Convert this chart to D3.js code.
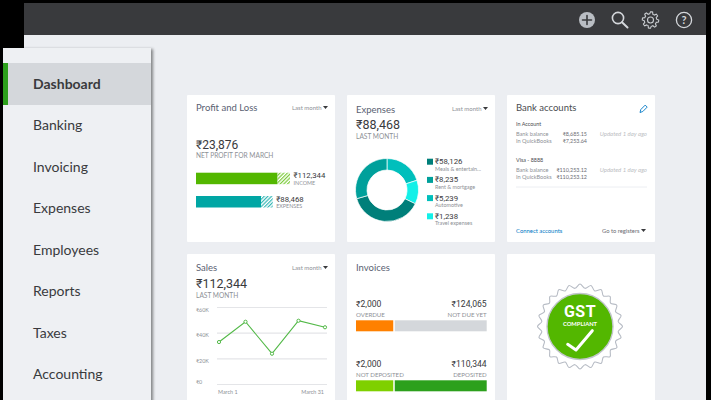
<!DOCTYPE html>
<html>
<head>
<meta charset="utf-8">
<script src="https://cdn.jsdelivr.net/npm/d3@7/dist/d3.min.js"></script>
<style>
  html, body { margin: 0; padding: 0; background: #000; overflow: hidden; }
  svg { display: block; }
  text { font-family: Lato, "Noto Sans", sans-serif; }
  .num { font-family: Roboto, "Noto Sans", sans-serif; }
  .seal { font-family: "Liberation Sans Narrow", Roboto, sans-serif; }
</style>
</head>
<body>
<div id="chart"></div>
<script>
// sidebar
const navItems = ['Dashboard', 'Banking', 'Invoicing', 'Expenses', 'Employees', 'Reports', 'Taxes', 'Accounting'];

// profit and loss: solid part, hatched part (lengths)
const plNames = ['INCOME', 'EXPENSES'];
const plLabels = ['₹112,344', '₹88,468'];
const plSolid = [97500, 77700];
const plHatched = [14844, 14000];

// expenses donut, arc shares in degrees
const donutNames = ['Automotive', 'Travel expenses', 'Meals & entertain...', 'Rent & mortgage'];
const donutShares = [72, 44, 138, 106];
const legendAmounts = ['₹58,126', '₹8,235', '₹5,239', '₹1,238'];
const legendNames = ['Meals & entertain...', 'Rent & mortgage', 'Automotive', 'Travel expenses'];

// bank accounts
const bankAccounts = ['In Account', 'Visa - 8888'];
const bankBalances = ['₹8,685.15', '₹110,253.12'];
const bookBalances = ['₹7,253.64', '₹110,253.12'];

// sales line
const salesLabels = ['March 1', 'March 8', 'March 16', 'March 23', 'March 31'];
const salesValues = [32700, 48500, 23600, 49300, 44200];
const salesTicks = [0, 20000, 40000, 60000];
const salesTickLabels = ['₹0', '₹20K', '₹40K', '₹60K'];

// invoices: label pairs and bar split in percent
const invoiceLeft = [['₹2,000', 'OVERDUE'], ['₹2,000', 'NOT DEPOSITED']];
const invoiceRight = [['₹124,065', 'NOT DUE YET'], ['₹110,344', 'DEPOSITED']];
const invoiceSplit = [28.5, 28.5];

const width = 711, height = 400;
const svg = d3.select('#chart').append('svg').attr('width', width).attr('height', height);
const defs = svg.append('defs');

const shadow = defs.append('filter').attr('id', 'navShadow').attr('x', '-10%').attr('y', '-5%').attr('width', '120%').attr('height', '110%');
shadow.append('feDropShadow').attr('dx', 2).attr('dy', 1).attr('stdDeviation', 1.6).attr('flood-color', '#000').attr('flood-opacity', 0.45);

function hatch(id, color) {
  const p = defs.append('pattern').attr('id', id).attr('width', 2.6).attr('height', 2.6)
    .attr('patternUnits', 'userSpaceOnUse').attr('patternTransform', 'rotate(45)');
  p.append('rect').attr('width', 2.6).attr('height', 2.6).attr('fill', '#fff');
  p.append('rect').attr('width', 1.2).attr('height', 2.6).attr('fill', color);
}
hatch('hatchGreen', '#7ccb3a');
hatch('hatchTeal', '#35b8b6');

function label(g, x, y, str, size, color, opts = {}) {
  return g.append('text').attr('x', x).attr('y', y).text(str)
    .attr('font-size', size).attr('fill', color)
    .attr('text-anchor', opts.anchor || 'start')
    .attr('font-weight', opts.weight || 400)
    .attr('font-style', opts.style || 'normal')
    .attr('class', opts.cls || null);
}

// page frame
svg.append('rect').attr('x', 24).attr('y', 3).attr('width', 682).attr('height', 32).attr('fill', '#393a3d');
svg.append('rect').attr('x', 24).attr('y', 35).attr('width', 682).attr('height', 365).attr('fill', '#eceef2');

// top bar icons
const icons = svg.append('g').attr('fill', 'none').attr('stroke-linecap', 'round');
icons.append('circle').attr('cx', 587).attr('cy', 20).attr('r', 8).attr('fill', '#b9bdc3');
icons.append('path').attr('d', 'M582.5 20H591.5M587 15.5V24.5').attr('stroke', '#393a3d').attr('stroke-width', 1.6);
icons.append('circle').attr('cx', 618).attr('cy', 18).attr('r', 5.6).attr('stroke', '#d4d7db').attr('stroke-width', 1.6);
icons.append('path').attr('d', 'M622 22.3L627.5 27.5').attr('stroke', '#d4d7db').attr('stroke-width', 2);
const gearR = d3.range(0, 48).map(i => [i / 48 * 2 * Math.PI, (i % 6 < 3) ? 8.2 : 6.2]);
icons.append('path').attr('transform', 'translate(650.5,20)').attr('stroke', '#c9ccd0').attr('stroke-width', 1.1)
  .attr('d', d3.lineRadial().curve(d3.curveLinearClosed)(gearR));
icons.append('circle').attr('cx', 650.5).attr('cy', 20).attr('r', 3).attr('stroke', '#c9ccd0').attr('stroke-width', 1.1);
icons.append('circle').attr('cx', 684).attr('cy', 20).attr('r', 7.6).attr('stroke', '#d4d7db').attr('stroke-width', 1.3);
label(svg, 684, 24, '?', 11, '#d4d7db', { anchor: 'middle', weight: 700 });

// sidebar
const nav = svg.append('g');
nav.append('rect').attr('x', 3).attr('y', 48).attr('width', 148).attr('height', 360).attr('fill', '#eef0f3').attr('filter', 'url(#navShadow)');
nav.append('rect').attr('x', 3).attr('y', 63).attr('width', 148).attr('height', 42).attr('fill', '#d4d7db');
nav.append('rect').attr('x', 3).attr('y', 63).attr('width', 5).attr('height', 42).attr('fill', '#2ca01c');
const navY = d3.scalePoint().domain(navItems).range([89, 379]);
nav.selectAll('text').data(navItems).join('text')
  .attr('x', 33).attr('y', d => navY(d)).text(d => d)
  .attr('font-size', 14).attr('fill', '#393a3d')
  .attr('font-weight', (d, i) => i === 0 ? 700 : 400);

// cards
function card(x, y, h) {
  const g = svg.append('g');
  g.append('rect').attr('x', x).attr('y', y).attr('width', 148).attr('height', h).attr('fill', '#fff').attr('rx', 1);
  return g;
}
function lastMonth(g, x, y) {
  label(g, x, y, 'Last month', 6, '#8d9096');
  g.append('path').attr('d', `M${x + 31} ${y - 4}h5l-2.5 3z`).attr('fill', '#393a3d');
}
const titleColor = '#5a6172', subColor = '#8d9096', numColor = '#393a3d';

// profit and loss
const pl = card(187, 95, 147);
label(pl, 196, 111.3, 'Profit and Loss', 9.5, titleColor);
lastMonth(pl, 292, 110);
label(pl, 196, 148.8, '₹23,876', 12, numColor, { cls: 'num' });
label(pl, 196, 158, 'NET PROFIT FOR MARCH', 6.6, subColor);
const plX = d3.scaleLinear().domain([0, 112344]).range([196, 290]);
const plY = d3.scalePoint().domain(plNames).range([172.7, 196]);
const plHeight = 11.5;
const plFill = ['#53b700', '#00a6a4'];
const plHatch = ['url(#hatchGreen)', 'url(#hatchTeal)'];
plNames.forEach((name, i) => {
  const end = plX(plSolid[i]), endAll = plX(plSolid[i] + plHatched[i]);
  pl.append('rect').attr('x', plX(0)).attr('y', plY(name)).attr('width', end - plX(0)).attr('height', plHeight).attr('fill', plFill[i]);
  pl.append('rect').attr('x', end).attr('y', plY(name)).attr('width', endAll - end).attr('height', plHeight).attr('fill', plHatch[i]);
  label(pl, endAll + 3.5, plY(name) + 5.5, plLabels[i], 7.8, numColor, { cls: 'num' });
  label(pl, endAll + 3.5, plY(name) + 12, name, 5.4, subColor);
});

// expenses
const ex = card(347, 95, 147);
label(ex, 356, 112.7, 'Expenses', 9.5, titleColor);
lastMonth(ex, 452, 111);
label(ex, 356, 128.5, '₹88,468', 12.5, numColor, { cls: 'num' });
label(ex, 356, 139, 'LAST MONTH', 6.6, subColor);
const donutColors = d3.scaleOrdinal().domain(donutNames).range(['#00bfbc', '#13f0e8', '#007f7a', '#00a09b']);
const pie = d3.pie().sort(null).value(d => d);
const arc = d3.arc().innerRadius(20).outerRadius(31.5);
ex.append('g').attr('transform', 'translate(387,190)')
  .selectAll('path').data(pie(donutShares)).join('path')
  .attr('d', arc)
  .attr('fill', (d, i) => donutColors(donutNames[i]))
  .attr('stroke', '#fff').attr('stroke-width', 0.7);
legendAmounts.forEach((amount, i) => {
  const y = 158.7 + i * 18.2;
  ex.append('rect').attr('x', 427).attr('y', y).attr('width', 6).attr('height', 6).attr('fill', donutColors(legendNames[i]));
  label(ex, 435, y + 5.5, amount, 7.8, numColor, { cls: 'num' });
  label(ex, 435, y + 12, legendNames[i], 5.4, subColor);
});

// bank accounts
const bk = card(507, 95, 147);
label(bk, 516, 111.3, 'Bank accounts', 9.5, '#4a4c50');
bk.append('path').attr('d', 'M640 112.5l.8-3 4.4-4.4 2 2-4.4 4.4z').attr('fill', 'none').attr('stroke', '#0077c5').attr('stroke-width', 0.9);
bankAccounts.forEach((account, i) => {
  const y = 126.4 + i * 36;
  label(bk, 516, y, account, 5.4, '#4a4c50');
  label(bk, 516, y + 10, 'Bank balance', 5.6, subColor);
  label(bk, 516, y + 17, 'In QuickBooks', 5.6, subColor);
  label(bk, 587, y + 10, bankBalances[i], 5.4, '#6b6c72', { anchor: 'end' });
  label(bk, 587, y + 17, bookBalances[i], 5.4, '#6b6c72', { anchor: 'end' });
  label(bk, 647, y + 10, 'Updated 1 day ago', 6, '#bcbec2', { anchor: 'end', style: 'italic' });
});
bk.append('line').attr('x1', 516).attr('x2', 647).attr('y1', 187).attr('y2', 187).attr('stroke', '#eceef2');
label(bk, 516, 233, 'Connect accounts', 5.9, '#0077c5');
label(bk, 602, 233, 'Go to registers', 5.8, '#6b6c72');
bk.append('path').attr('d', 'M641 229h5l-2.5 3z').attr('fill', '#393a3d');

// sales
const sa = card(187, 254, 147);
label(sa, 196, 271, 'Sales', 9.5, titleColor);
lastMonth(sa, 292, 270);
label(sa, 196, 287.5, '₹112,344', 12.5, numColor, { cls: 'num' });
label(sa, 196, 298, 'LAST MONTH', 6.6, subColor);
const salesY = d3.scaleLinear().domain([0, 60000]).range([384, 307]);
const salesX = d3.scalePoint().domain(salesLabels).range([219, 325]);
const yAxis = sa.append('g').attr('transform', 'translate(217,0)')
  .call(d3.axisLeft(salesY).tickValues(salesTicks).tickFormat((d, i) => salesTickLabels[i]).tickSize(-110).tickPadding(8));
yAxis.select('.domain').remove();
yAxis.selectAll('.tick line').attr('stroke', '#e4e5e8').attr('stroke-width', 1.2);
yAxis.selectAll('.tick text').attr('font-size', 5.4).attr('fill', subColor).attr('font-family', 'Lato')
  .attr('text-anchor', 'start').attr('x', -21)
  .attr('y', (d, i) => i === 0 ? -2 : 2.6);
label(sa, 218, 394, 'March 1', 5.4, subColor);
label(sa, 324, 394, 'March 31', 5.4, subColor, { anchor: 'end' });
sa.append('path')
  .attr('d', d3.line().x((d, i) => salesX(salesLabels[i])).y(d => salesY(d))(salesValues))
  .attr('fill', 'none').attr('stroke', '#53b948').attr('stroke-width', 1.1);
sa.selectAll('circle').data(salesValues).join('circle')
  .attr('cx', (d, i) => salesX(salesLabels[i])).attr('cy', d => salesY(d)).attr('r', 1.6)
  .attr('fill', '#fff').attr('stroke', '#53b948').attr('stroke-width', 1);

// invoices
const inv = card(347, 254, 147);
label(inv, 356, 271, 'Invoices', 9.5, titleColor);
const invX = d3.scaleLinear().domain([0, 100]).range([356, 486.7]);
const invY = d3.scalePoint().domain([0, 1]).range([320.3, 380.3]);
const invColors = [['#ff8000', '#d4d7db'], ['#7fd000', '#2ca01c']];
invoiceSplit.forEach((split, i) => {
  const y = invY(i);
  inv.append('rect').attr('x', invX(0)).attr('y', y).attr('width', invX(split) - invX(0)).attr('height', 11).attr('fill', invColors[i][0]);
  inv.append('rect').attr('x', invX(split) + 1.5).attr('y', y).attr('width', invX(100) - invX(split) - 1.5).attr('height', 11).attr('fill', invColors[i][1]);
  label(inv, 356, y - 13, invoiceLeft[i][0], 8.6, numColor, { cls: 'num' });
  label(inv, 486.7, y - 13, invoiceRight[i][0], 8.6, numColor, { anchor: 'end', cls: 'num' });
  label(inv, 356, y - 3.5, invoiceLeft[i][1], 6.1, subColor);
  label(inv, 486.7, y - 3.5, invoiceRight[i][1], 6.1, subColor, { anchor: 'end' });
});

// gst seal
const gst = card(507, 254, 147);
const seal = gst.append('g').attr('transform', 'translate(580,326.5)');
const wavy = d3.range(0, 48).map(i => [i / 48 * 2 * Math.PI, i % 2 ? 38.5 : 42.5]);
seal.append('path').attr('d', d3.lineRadial().curve(d3.curveCardinalClosed)(wavy))
  .attr('fill', '#fff').attr('stroke', '#b6bbc4').attr('stroke-width', 1.1);
seal.append('circle').attr('r', 33).attr('fill', '#53b700').attr('stroke', '#c2c6cc').attr('stroke-width', 1.4);
label(seal, 0, -9.4, 'GST', 16, '#fff', { anchor: 'middle', weight: 700, cls: 'seal' }).attr('letter-spacing', 0.5);
label(seal, 0, -0.6, 'COMPLIANT', 5.8, '#fff', { anchor: 'middle', weight: 700 });
seal.append('path').attr('d', 'M-12.3 17.8L-4 23.5L12.3 4.2')
  .attr('fill', 'none').attr('stroke', '#fff').attr('stroke-width', 3).attr('stroke-linecap', 'round').attr('stroke-linejoin', 'round');
</script>
</body>
</html>
